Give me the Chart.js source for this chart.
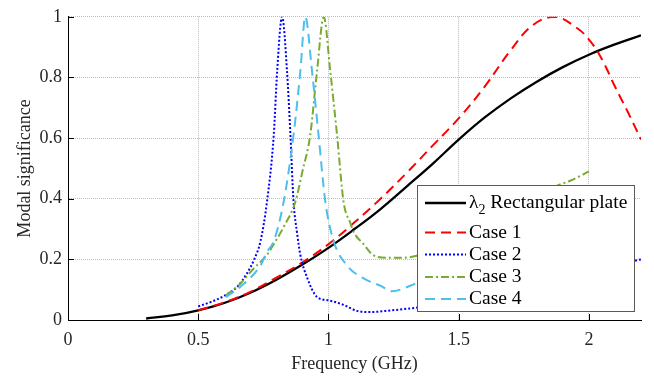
<!DOCTYPE html>
<html><head><meta charset="utf-8">
<script src="https://cdn.jsdelivr.net/npm/chart.js@4.4.1/dist/chart.umd.min.js"></script>
<style>html,body{margin:0;padding:0;background:#fff;overflow:hidden}</style>
</head><body>
<canvas id="c" width="654" height="378"></canvas>
<script>
// ---- tick labels / categories ----
const xTicks = [0, 0.5, 1, 1.5, 2];
const yTicks = [0, 0.2, 0.4, 0.6, 0.8, 1];
const xTitle = 'Frequency (GHz)';
const yTitle = 'Modal significance';
const lambdaLabelParts = ['λ', '2', ' Rectangular plate'];
const seriesLabels = [lambdaLabelParts.join(''), 'Case 1', 'Case 2', 'Case 3', 'Case 4'];

// ---- series values ----
const lambdaFreq = [0.3,0.4,0.5,0.6,0.7,0.8,0.9,1.0,1.1,1.2,1.3,1.4,1.5,1.6,1.7,1.8,1.9,2.0,2.1,2.2];
const lambdaVal  = [0.005,0.015,0.032,0.056,0.09,0.133,0.183,0.238,0.3,0.366,0.44,0.515,0.595,0.668,0.731,0.786,0.834,0.875,0.909,0.939];

const case1Freq = [0.5,0.6,0.7,0.8,0.9,1.0,1.1,1.2,1.3,1.4,1.5,1.6,1.7,1.787,1.87,1.954,2.005,2.05,2.1,2.15,2.2];
const case1Val  = [0.032,0.058,0.093,0.14,0.19,0.25,0.322,0.4,0.485,0.575,0.665,0.77,0.89,0.974,1.0,0.963,0.92,0.86,0.77,0.685,0.595];

const case2Freq = [0.5,0.55,0.6,0.65,0.688,0.715,0.739,0.764,0.79,0.803,0.822,0.841,0.854,0.866,0.879,0.892,0.918,0.956,1.0,1.058,1.11,1.16,1.22,1.33,1.45,1.6,1.8,2.0,2.2];
const case2Val  = [0.045,0.06,0.08,0.11,0.155,0.2,0.26,0.39,0.61,0.82,1.0,0.82,0.61,0.39,0.29,0.215,0.14,0.076,0.065,0.05,0.03,0.026,0.03,0.04,0.055,0.08,0.12,0.16,0.2];

const case3Freq = [0.605,0.662,0.713,0.764,0.79,0.83,0.873,0.9,0.93,0.956,0.982,1.007,1.033,1.058,1.084,1.097,1.135,1.17,1.225,1.28,1.33,1.45,1.6,1.75,1.87,1.93,2.0];
const case3Val  = [0.08,0.12,0.17,0.215,0.25,0.31,0.39,0.49,0.61,0.82,1.0,0.82,0.61,0.39,0.32,0.29,0.25,0.215,0.205,0.205,0.21,0.25,0.31,0.38,0.44,0.46,0.49];

const case4Freq = [0.605,0.662,0.739,0.764,0.79,0.828,0.866,0.892,0.911,0.937,0.962,0.988,1.02,1.071,1.135,1.2,1.244,1.314,1.4,1.55,1.7,1.85,2.0];
const case4Val  = [0.075,0.11,0.18,0.225,0.26,0.39,0.61,0.82,1.0,0.82,0.61,0.39,0.26,0.18,0.137,0.113,0.095,0.113,0.15,0.2,0.24,0.28,0.32];

const pts = (f, v) => f.map((x, i) => ({x: x, y: v[i]}));
const FONT = '"Liberation Serif", "Times New Roman", serif';

const overlay = {
  id: 'overlay',
  afterDatasetsDraw(chart) {
    const {ctx, chartArea: a, scales: {x, y}} = chart;
    ctx.save();
    // inward tick marks
    ctx.strokeStyle = '#000'; ctx.lineWidth = 1; ctx.setLineDash([]);
    ctx.beginPath();
    xTicks.forEach(v => { const px = Math.round(x.getPixelForValue(v)) + 0.5; ctx.moveTo(px, a.bottom); ctx.lineTo(px, a.bottom - 6); });
    yTicks.forEach(v => { const py = Math.round(y.getPixelForValue(v)) + 0.5; ctx.moveTo(a.left, py); ctx.lineTo(a.left + 6, py); });
    ctx.stroke();
    // legend box inside plot
    const W = 218, H = 127;
    const L = Math.round(a.right - 6 - W), T = Math.round(a.bottom - 8 - H);
    ctx.fillStyle = '#fff'; ctx.fillRect(L, T, W, H);
    ctx.strokeStyle = '#5a5a5a'; ctx.lineWidth = 1; ctx.strokeRect(L + 0.5, T + 0.5, W - 1, H - 1);
    const rows = [18, 47.5, 69.5, 92, 114];
    chart.data.datasets.forEach((ds, i) => {
      const yy = T + rows[i];
      ctx.save();
      ctx.strokeStyle = ds.borderColor; ctx.lineWidth = ds.borderWidth;
      ctx.setLineDash(ds.borderDash || []);
      ctx.beginPath(); ctx.moveTo(L + 8, yy); ctx.lineTo(L + 49, yy); ctx.stroke();
      ctx.restore();
      ctx.fillStyle = '#000'; ctx.textBaseline = 'middle'; ctx.textAlign = 'left';
      ctx.font = '19.5px ' + FONT;
      let tx = L + 52;
      if (i === 0) {
        ctx.fillText(lambdaLabelParts[0], tx, yy); tx += ctx.measureText(lambdaLabelParts[0]).width;
        ctx.font = '14px ' + FONT;
        ctx.fillText(lambdaLabelParts[1], tx, yy + 7); tx += ctx.measureText(lambdaLabelParts[1]).width;
        ctx.font = '19.5px ' + FONT;
        ctx.fillText(lambdaLabelParts[2], tx, yy);
      } else {
        ctx.fillText(ds.label, tx, yy);
      }
    });
    ctx.restore();
  }
};

const mk = (label, f, v, color, dash, order, width, smooth) => ({
  label: label, data: pts(f, v), borderColor: color, backgroundColor: color,
  borderWidth: width || 2, borderDash: dash, pointRadius: 0, fill: false, order: order,
  cubicInterpolationMode: smooth ? 'default' : 'monotone', tension: smooth ? 0.4 : 0
});

new Chart(document.getElementById('c'), {
  type: 'line',
  data: { datasets: [
    mk(seriesLabels[0], lambdaFreq, lambdaVal, '#000000', [], 5, 2.3, true),
    mk(seriesLabels[1], case1Freq, case1Val, '#FF0000', [10, 6], 4, 2, true),
    mk(seriesLabels[2], case2Freq, case2Val, '#0000FF', [2, 2], 3, 2, false),
    mk(seriesLabels[3], case3Freq, case3Val, '#77AC30', [8, 3, 2, 3], 2, 2, false),
    mk(seriesLabels[4], case4Freq, case4Val, '#4DBEEE', [10, 6], 1, 2, false)
  ]},
  options: {
    responsive: false, devicePixelRatio: 1, animation: false,
    layout: { padding: { left: 0, right: 13, top: 12, bottom: 0 } },
    plugins: { legend: { display: false }, tooltip: { enabled: false } },
    scales: {
      x: {
        type: 'linear', min: 0, max: 2.2,
        afterBuildTicks: s => { s.ticks = xTicks.map(v => ({value: v})); },
        afterFit: s => { s.height = 58; },
        grid: { color: '#bdbdbd', lineWidth: 1, drawTicks: false },
        border: { color: '#000', width: 1, dash: [1, 1] },
        ticks: { padding: 9, color: '#262626', font: { family: FONT, size: 18 }, maxRotation: 0, autoSkip: false, callback: v => String(v) },
        title: { display: true, text: xTitle, color: '#262626', font: { family: FONT, size: 18 }, padding: { top: 0, bottom: 3 } }
      },
      y: {
        type: 'linear', min: 0, max: 1,
        afterBuildTicks: s => { s.ticks = yTicks.map(v => ({value: v})); },
        afterFit: s => { s.width = 68; },
        grid: { color: '#bdbdbd', lineWidth: 1, drawTicks: false },
        border: { color: '#000', width: 1, dash: [1, 1] },
        ticks: { padding: 6, color: '#262626', font: { family: FONT, size: 18 }, callback: v => String(v) },
        title: { display: true, text: yTitle, color: '#262626', font: { family: FONT, size: 18 }, padding: { top: 14, bottom: 0 } }
      }
    }
  },
  plugins: [overlay]
});
</script>
</body></html>
